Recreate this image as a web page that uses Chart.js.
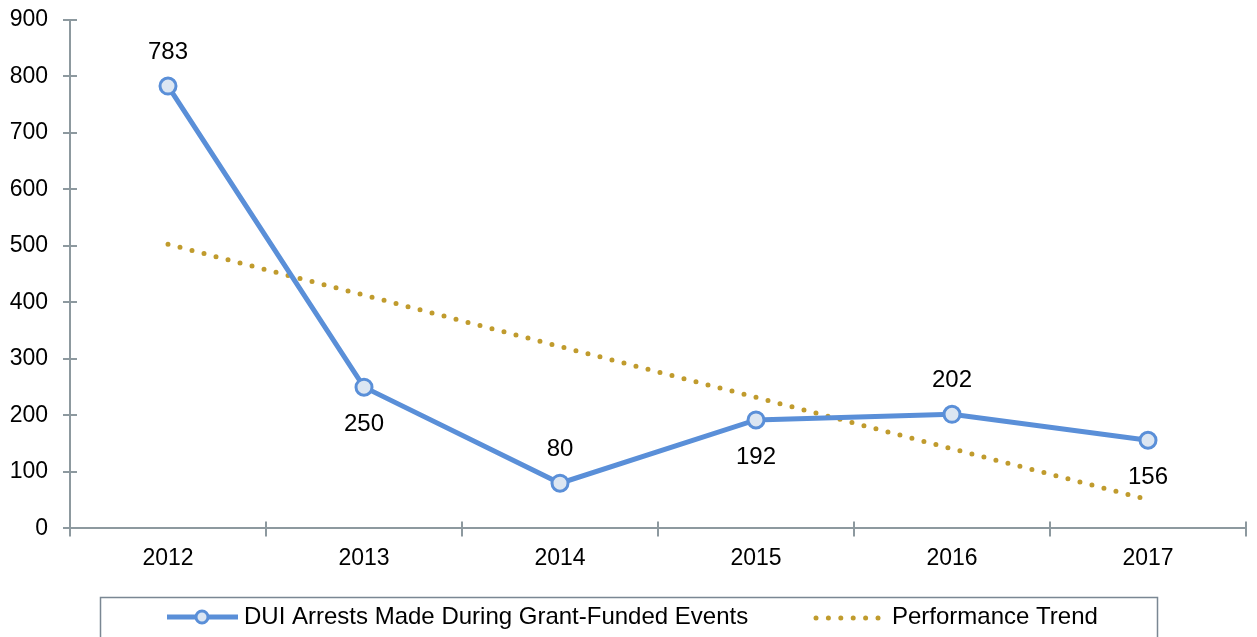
<!DOCTYPE html>
<html>
<head>
<meta charset="utf-8">
<script src="https://cdn.jsdelivr.net/npm/chart.js@4/dist/chart.umd.min.js"></script>
<style>
  html, body { margin: 0; padding: 0; background: #fff; }
  #wrap { width: 1257px; height: 637px; }
</style>
</head>
<body>
<div id="wrap"><canvas id="duiChart" width="1257" height="637"></canvas></div>
<script>
const years = ['2012', '2013', '2014', '2015', '2016', '2017'];
const arrests = [783, 250, 80, 192, 202, 156];
const trend = [503, 413, 322, 232, 141, 51];
const labelSide = ['above', 'below', 'above', 'below', 'above', 'below'];
const yTicks = [0, 100, 200, 300, 400, 500, 600, 700, 800, 900];

const BLUE = '#5A8FD8';
const GOLD = '#C09B2D';
const AXIS = '#8D999F';
const FONT = '"Liberation Sans", Arial, sans-serif';

// point labels above / below each marker
const valueLabels = {
    id: 'valueLabels',
    afterDatasetsDraw(chart) {
        const ctx = chart.ctx;
        const meta = chart.getDatasetMeta(0);
        ctx.save();
        ctx.font = '24px ' + FONT;
        ctx.fillStyle = '#000';
        ctx.textAlign = 'center';
        ctx.textBaseline = 'middle';
        meta.data.forEach((pt, i) => {
            const dy = labelSide[i] === 'above' ? -34 : 37;
            ctx.fillText(String(arrests[i]), pt.x, pt.y + dy);
        });
        ctx.restore();
    }
};

// inner halves of the tick marks (ticks cross the axis lines)
const crossTicks = {
    id: 'crossTicks',
    afterDraw(chart) {
        const ctx = chart.ctx;
        const x = chart.scales.x, y = chart.scales.y;
        ctx.save();
        ctx.strokeStyle = AXIS;
        ctx.lineWidth = 2;
        ctx.beginPath();
        yTicks.forEach(v => {
            const py = Math.round(y.getPixelForValue(v));
            ctx.moveTo(x.left, py);
            ctx.lineTo(x.left + 7, py);
        });
        const step = (x.right - x.left) / years.length;
        for (let i = 0; i <= years.length; i++) {
            const px = Math.round(x.left + i * step);
            ctx.moveTo(px, y.bottom);
            ctx.lineTo(px, y.bottom - 7);
        }
        ctx.stroke();
        ctx.restore();
    }
};

// boxed legend at the bottom
const boxLegend = {
    id: 'boxLegend',
    afterDraw(chart) {
        const ctx = chart.ctx;
        ctx.save();
        ctx.strokeStyle = '#7A8793';
        ctx.lineWidth = 1.5;
        ctx.strokeRect(100.5, 597.5, 1057, 50);

        const cy = 617;
        // blue line with marker
        ctx.strokeStyle = BLUE;
        ctx.lineWidth = 5;
        ctx.beginPath();
        ctx.moveTo(167, cy);
        ctx.lineTo(238, cy);
        ctx.stroke();
        ctx.beginPath();
        ctx.arc(202, cy, 6, 0, Math.PI * 2);
        ctx.fillStyle = '#DCE6F2';
        ctx.fill();
        ctx.lineWidth = 3;
        ctx.stroke();

        // dotted trend sample
        ctx.fillStyle = GOLD;
        for (let i = 0; i < 6; i++) {
            ctx.beginPath();
            ctx.arc(816 + i * 12.4, cy + 1, 2.5, 0, Math.PI * 2);
            ctx.fill();
        }

        ctx.fillStyle = '#000';
        ctx.font = '24px ' + FONT;
        ctx.textBaseline = 'middle';
        ctx.textAlign = 'left';
        ctx.fillText('DUI Arrests Made During Grant-Funded Events', 244, cy);
        ctx.fillText('Performance Trend', 892, cy);
        ctx.restore();
    }
};

const ctx = document.getElementById('duiChart').getContext('2d');
new Chart(ctx, {
    type: 'line',
    data: {
        labels: years,
        datasets: [{
                label: 'DUI Arrests Made During Grant-Funded Events',
                data: arrests,
                borderColor: BLUE,
                borderWidth: 5,
                pointRadius: 8,
                pointBorderWidth: 3,
                pointBorderColor: BLUE,
                pointBackgroundColor: '#DCE6F2',
                tension: 0,
                fill: false,
                order: 1,
            },
            {
                label: 'Performance Trend',
                data: trend,
                borderColor: GOLD,
                borderWidth: 5,
                borderDash: [0, 12.4],
                borderCapStyle: 'round',
                pointRadius: 0,
                tension: 0,
                fill: false,
                order: 2,
            }
        ]
    },
    options: {
        responsive: false,
        animation: false,
        layout: { padding: { top: 20, right: 2, left: 10, bottom: 57 } },
        plugins: {
            legend: { display: false },
            tooltip: { enabled: false }
        },
        scales: {
            x: {
                type: 'category',
                offset: true,
                border: { color: AXIS, width: 2 },
                grid: {
                    offset: true,
                    drawOnChartArea: false,
                    color: AXIS,
                    lineWidth: 2,
                    tickLength: 8
                },
                afterFit(scale) {
                    scale.paddingLeft = 0;
                    scale.paddingRight = 0;
                },
                ticks: {
                    color: '#000',
                    font: { family: FONT, size: 23 },
                    padding: 8
                }
            },
            y: {
                min: 0,
                max: 900,
                border: { color: AXIS, width: 2 },
                grid: {
                    drawOnChartArea: false,
                    color: AXIS,
                    lineWidth: 2,
                    tickLength: 7
                },
                afterBuildTicks(scale) {
                    scale.ticks = yTicks.map(v => ({ value: v }));
                },
                afterFit(scale) {
                    scale.width = 60;
                    scale.paddingTop = 0;
                    scale.paddingBottom = 0;
                },
                ticks: {
                    color: '#000',
                    font: { family: FONT, size: 23 },
                    padding: 15
                }
            }
        }
    },
    plugins: [valueLabels, crossTicks, boxLegend]
});
</script>
</body>
</html>
